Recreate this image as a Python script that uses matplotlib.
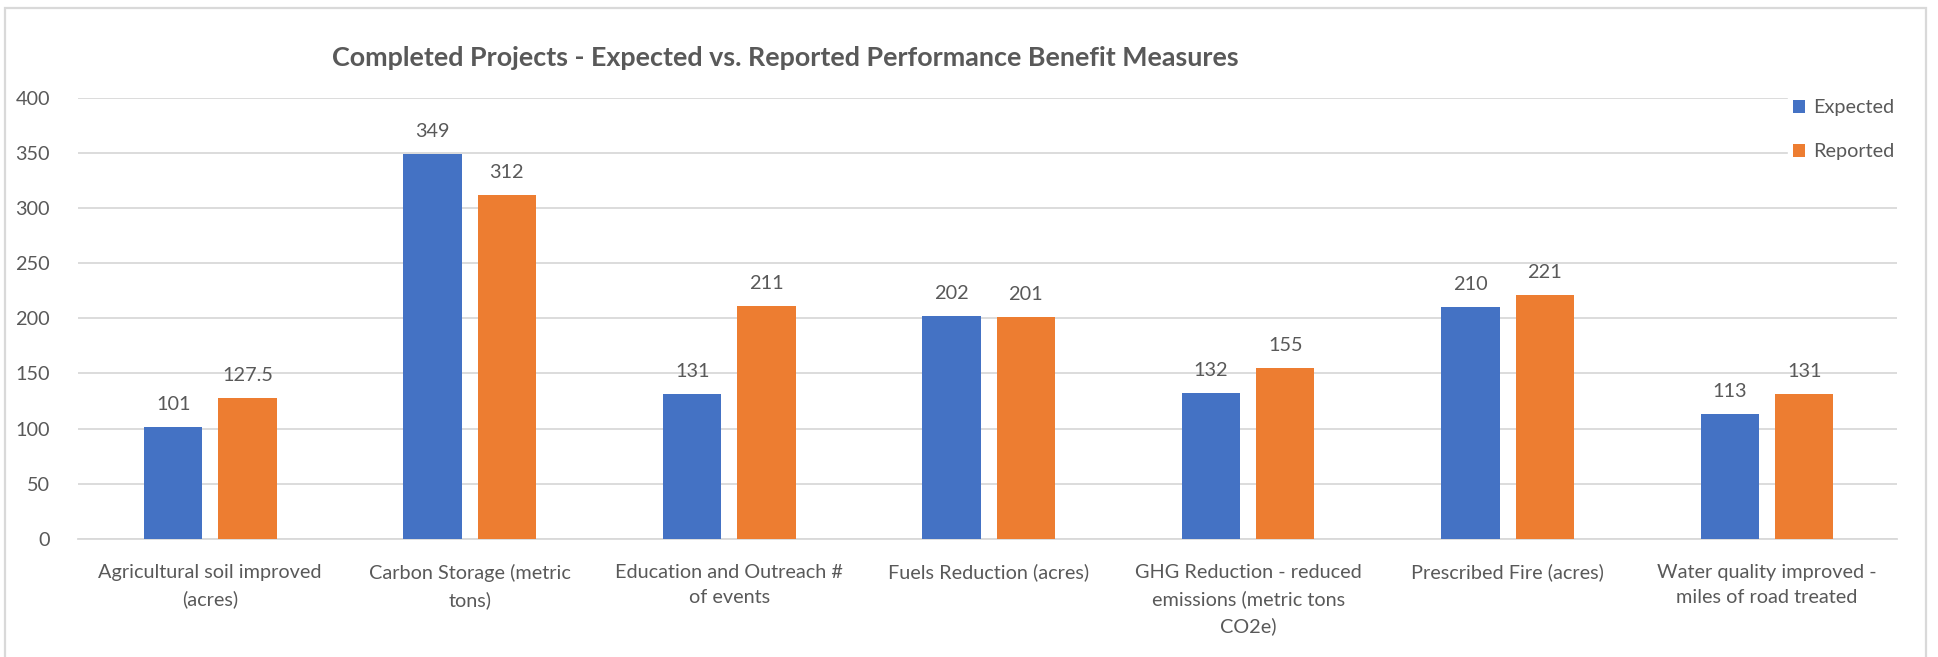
import numpy as np
import matplotlib.pyplot as plt

categories = ['Agricultural soil improved\n(acres)', 'Carbon Storage (metric\ntons)',
              'Education and Outreach #\nof events', 'Fuels Reduction (acres)',
              'GHG Reduction - reduced\nemissions (metric tons\nCO2e)', 'Prescribed Fire (acres)',
              'Water quality improved -\nmiles of road treated']
expected = [101, 349, 131, 202, 132, 210, 113]
reported = [127.5, 312, 211, 201, 155, 221, 131]
yticks = [0, 50, 100, 150, 200, 250, 300, 350, 400]

plt.rcParams['font.family'] = ['Lato', 'DejaVu Sans']
txt = '#595959'
blue = '#4472C4'
orange = '#ED7D31'
fs = 14.3

fig = plt.figure(figsize=(19.38, 6.57), dpi=100)
ax = fig.add_axes([0.0402, 0.180, 0.9386, 0.671])

x = np.arange(len(categories))
w = 0.225
b1 = ax.bar(x - 0.143, expected, w, color=blue, label='Expected', zorder=3)
b2 = ax.bar(x + 0.143, reported, w, color=orange, label='Reported', zorder=3)

for bars, vals in [(b1, expected), (b2, reported)]:
    for r, v in zip(bars, vals):
        ax.annotate(f'{v:g}', (r.get_x() + r.get_width() / 2, v), xytext=(0, 14),
                    textcoords='offset pixels', ha='center', va='bottom', fontsize=fs, color=txt)

ax.set_xlim(-0.51, 6.5)
ax.set_ylim(0, 400)
ax.set_yticks(yticks)
ax.set_xticks(x)
ax.set_xticklabels(categories, fontsize=fs, color=txt, linespacing=1.62)
ax.tick_params(axis='y', labelsize=fs, labelcolor=txt, length=0, pad=20)
ax.tick_params(axis='x', length=0, pad=18)
ax.grid(axis='y', color='#D9D9D9', lw=1.3, zorder=0)
for s in ['top', 'right', 'left']:
    ax.spines[s].set_visible(False)
ax.spines['bottom'].set_color('#D9D9D9')
ax.spines['bottom'].set_linewidth(1.3)

leg = ax.legend(loc='upper right', bbox_to_anchor=(1.002, 1.01), frameon=True, fontsize=fs,
                handlelength=0.6, handleheight=0.6, handletextpad=0.4, labelspacing=1.35,
                borderpad=0.3, borderaxespad=0)
leg.get_frame().set_edgecolor('white')
leg.get_frame().set_facecolor('white')
leg.get_frame().set_alpha(1)
leg.set_zorder(5)
for t in leg.get_texts():
    t.set_color(txt)

fig.text(0.405, 0.912, 'Completed Projects - Expected vs. Reported Performance Benefit Measures',
         ha='center', va='center', fontsize=19.4, fontweight='bold', color=txt)

# chart border (open at the bottom, as in the cropped screenshot)
fig.patches.append(plt.Rectangle((0.0028, -0.02), 0.991, 1.0078, transform=fig.transFigure,
                                 fill=False, edgecolor='#D9D9D9', lw=1.6))

fig.savefig('out.png', dpi=100)
